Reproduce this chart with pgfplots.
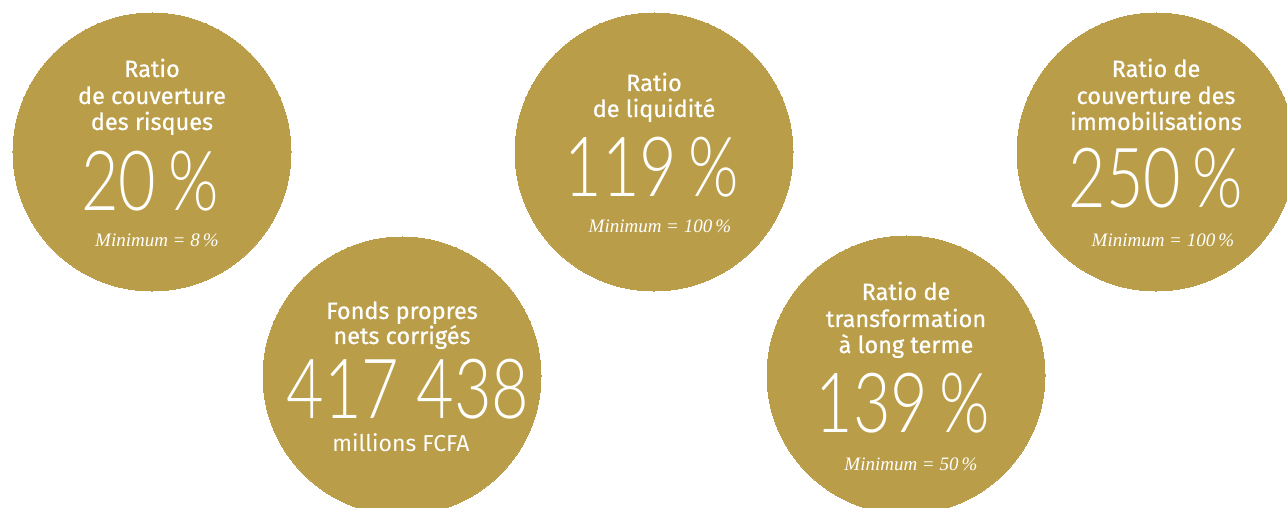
\documentclass[border=0pt]{standalone}
\usepackage{fontspec}
\usepackage{pgfplots}
\pgfplotsset{compat=1.18}
\setmainfont{Fira Sans}
\newfontfamily\titf[FakeBold=0.6]{Fira Sans}
\newfontfamily\thinf[FakeStretch=0.78]{Lato Light}
\newfontfamily\minf{Liberation Serif}
\definecolor{gold}{HTML}{BA9D48}
\newcommand\tit{\titf\fontsize{23.5bp}{27bp}\selectfont}
\newcommand\bignum{\thinf\fontsize{83bp}{90bp}\selectfont}
\newcommand\mini{\minf\itshape\fontsize{19bp}{20bp}\selectfont}
\newcommand\pc{\hspace{0.14em}\%}
\begin{document}
\begin{tikzpicture}
\begin{axis}[
  x=1bp, y=1bp, xmin=0, xmax=1287, ymin=0, ymax=508, y dir=reverse,
  scale only axis, axis lines=none, ticks=none, clip=true, clip marker paths=true,
]
\addplot[only marks, mark=*, mark size=139bp, mark options={draw=gold, line width=0pt, fill=gold}] coordinates {(152,152)(654,152)(1156,152)(402,376)(906,375)};
\tikzset{every node/.style={text=white, anchor=base, inner sep=0pt}}
% circle 1
\node[font=\tit] at (axis cs:152,77) {Ratio};
\node[font=\tit] at (axis cs:152,104) {de couverture};
\node[font=\tit] at (axis cs:152,130) {des risques};
\node[font=\bignum] at (axis cs:150,211) {20\pc};
\node[font=\mini] at (axis cs:157,247) {Minimum = 8\thinspace\%};
% circle 3
\node[font=\tit] at (axis cs:654,91) {Ratio};
\node[font=\tit] at (axis cs:654,117) {de liquidité};
\node[font=\bignum] at (axis cs:652,197) {119\pc};
\node[font=\mini] at (axis cs:660,233) {Minimum = 100\thinspace\%};
% circle 5
\node[font=\tit] at (axis cs:1156,77) {Ratio de};
\node[font=\tit] at (axis cs:1156,104) {couverture des};
\node[font=\tit] at (axis cs:1156,130) {immobilisations};
\node[font=\bignum] at (axis cs:1156,208) {250\pc};
\node[font=\mini] at (axis cs:1163,247) {Minimum = 100\thinspace\%};
% circle 2
\node[font=\tit] at (axis cs:402,319) {Fonds propres};
\node[font=\tit] at (axis cs:402,344) {nets corrigés};
\node[font=\bignum] at (axis cs:408,418) {417 438};
\node[font=\fontsize{23bp}{27bp}\selectfont] at (axis cs:401,451) {millions FCFA};
% circle 4
\node[font=\tit] at (axis cs:906,300) {Ratio de};
\node[font=\tit] at (axis cs:906,327) {transformation};
\node[font=\tit] at (axis cs:906,353) {à long terme};
\node[font=\bignum] at (axis cs:903,432) {139\pc};
\node[font=\mini] at (axis cs:911,470) {Minimum = 50\thinspace\%};
\end{axis}
\pgfresetboundingbox
\path (current axis.south west) rectangle (current axis.north east);
\end{tikzpicture}
\end{document}
